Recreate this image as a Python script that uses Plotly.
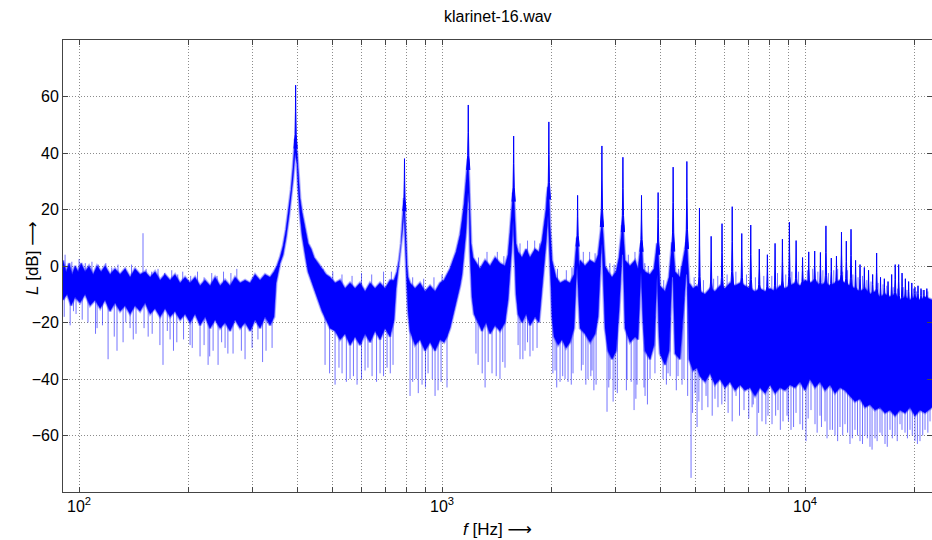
import numpy as np
import plotly.graph_objects as go

# ---- spectrum of klarinet-16.wav -------------------------------------------
# upper edge of the noise band (Hz, dB), including the broad skirts of the partials
band_top_hz = [
    90.3, 92.1, 93.9, 95.7, 97.5, 99.4, 101.3, 103.9, 106.5, 109.3, 112.1, 115.0,
    117.9, 121.7, 125.6, 129.7, 133.9, 138.2, 142.6, 147.2, 152.0, 156.9, 161.9,
    167.2, 172.5, 178.1, 183.8, 189.8, 195.9, 202.2, 208.7, 215.4, 222.4, 229.6,
    237.0, 244.6, 252.5, 260.6, 269.0, 277.7, 286.6, 295.9, 305.4, 315.2, 325.4,
    335.9, 344.5, 351.1, 357.8, 364.7, 371.7, 378.9, 383.7, 388.6, 391.1, 393.6,
    398.6, 401.2, 403.7, 406.2, 411.4, 416.7, 422.1, 427.5, 435.7, 444.0, 455.4,
    467.1, 479.1, 491.4, 507.3, 523.6, 540.5, 557.9, 575.9, 594.4, 613.6, 633.4,
    653.8, 674.8, 696.6, 719.0, 737.5, 751.6, 761.3, 771.1, 776.0, 780.9, 785.9,
    790.8, 795.9, 800.9, 806.0, 816.3, 842.6, 869.8, 897.8, 926.7, 956.6, 987.4,
    1013, 1032, 1052, 1072, 1093, 1107, 1121, 1135, 1150, 1164, 1172, 1179, 1187,
    1194, 1202, 1217, 1241, 1272, 1314, 1356, 1400, 1444, 1491, 1520, 1539, 1559,
    1569, 1579, 1589, 1599, 1620, 1661, 1704, 1747, 1804, 1850, 1886, 1910, 1934,
    1946, 1959, 1971, 1984, 2009, 2061, 2114, 2182, 2252, 2310, 2340, 2355, 2370,
    2385, 2400, 2477, 2557, 2640, 2691, 2724, 2741, 2759, 2776, 2794, 2812, 2866,
    2940, 3016, 3074, 3113, 3133, 3152, 3172, 3193, 3295, 3402, 3467, 3511, 3533,
    3556, 3578, 3625, 3741, 3837, 3888, 3913, 3938, 3961, 3986, 4115, 4221, 4274,
    4301, 4328, 4356, 4385, 4525, 4612, 4672, 4702, 4731, 4762, 4792, 4915, 5042,
    5137, 5304, 5474, 5649, 5832, 6021, 6214, 6415, 6621, 6835, 7055, 7283, 7516,
    7760, 8009, 8267, 8533, 8809, 9092, 9386, 9687, 10000, 10321, 10655, 10997,
    11353, 11718, 12095, 12485, 12887, 13302, 13730, 14173, 14630, 15101, 15590,
    16090, 16610, 17144, 17700, 18267, 18860, 19463, 20090, 20737, 21410, 22380,
]
band_top_db = [
    2, -2, 1, -3, 0, -2, 1, -2, 0, -3, 0, -2,
    0, -3, -1, -3, -1, -4, -1, -3, -2, -4, -2,
    -5, -3, -5, -3, -6, -4, -6, -4, -7, -5, -7,
    -4, -7, -5, -7, -4, -6, -5, -6, -3, -5, -3,
    -4, -2, 0, 3, 7, 13, 21, 27, 35, 40, 45,
    40, 34, 28, 24, 19, 15, 11, 8, 6, 3, 1,
    -1, -3, -4, -6, -5, -8, -6, -8, -6, -9, -6,
    -8, -6, -8, -5, -5, -2, 2, 8, 13, 20, 24,
    18, 8, 0, -4, -6, -8, -6, -9, -7, -9, -6,
    -5, -3, -1, 2, 5, 8, 11, 16, 22, 30, 35, 38, 30,
    14, 8, 3, 1, -1, 2, 0, 3, 1, 0, 4, 12, 22,
    26, 24, 12, 8, 5, 3, 6, 3, 6, 5, 9, 14, 20,
    25, 28, 25, 14, 2, -4, -6, -5, -6, -3, 6, 10, 8,
    0, 2, 0, 2, 1, 4, 10, 14, 16, 12, 4, 0, -2,
    -4, -2, 3, 10, 14, 14, 6, 2, 0, 2, -1, 5, 8,
    6, -1, -2, -3, -1, 4, 8, 6, -3, -7, -9, -4, 4,
    8, 8, 2, -2, -4, 2, 6, 8, 8, 0, -6, -8, -7,
    -9, -10, -8, -9, -7, -8, -6, -7, -6, -7, -8, -9, -8,
    -9, -8, -9, -7, -8, -7, -6, -7, -5, -6, -5, -7,
    -6, -7, -6, -5, -6, -7, -8, -9, -8, -10, -9,
    -11, -10, -11, -10, -12, -11, -12, -11, -12, -11, -12,
]

# lower edge of the dense noise band (Hz, dB)
band_bot_hz = [
    90.3, 92.7, 95.1, 97.5, 100.6, 103.9, 107.2, 110.7, 114.3, 117.9, 121.7, 125.6,
    129.7, 133.9, 138.2, 142.6, 147.2, 152.0, 156.9, 161.9, 167.2, 172.5, 178.1,
    183.8, 189.8, 195.9, 202.2, 208.7, 215.4, 222.4, 229.6, 237.0, 244.6, 252.5,
    260.6, 269.0, 277.7, 286.6, 295.9, 305.4, 315.2, 325.4, 335.9, 344.5, 348.9,
    353.4, 357.8, 364.7, 371.7, 378.9, 383.7, 388.6, 393.6, 398.6, 401.2, 403.7,
    406.2, 411.4, 416.7, 422.1, 427.5, 435.7, 444.0, 455.4, 467.1, 479.1, 491.4,
    507.3, 523.6, 540.5, 557.9, 575.9, 594.4, 613.6, 633.4, 653.8, 674.8, 696.6,
    719.0, 737.5, 746.9, 756.4, 766.2, 776.0, 785.9, 790.8, 795.9, 800.9, 806.0,
    816.3, 842.6, 869.8, 897.8, 926.7, 956.6, 987.4, 1013, 1032, 1052, 1072, 1093,
    1107, 1121, 1135, 1150, 1164, 1179, 1187, 1194, 1202, 1209, 1225, 1257, 1288,
    1322, 1356, 1400, 1444, 1491, 1520, 1539, 1559, 1569, 1579, 1589, 1599, 1620,
    1661, 1704, 1747, 1804, 1850, 1886, 1910, 1934, 1959, 1971, 1984, 1997, 2009,
    2035, 2088, 2141, 2196, 2252, 2310, 2340, 2355, 2370, 2385, 2400, 2477, 2557,
    2640, 2691, 2724, 2741, 2759, 2776, 2794, 2812, 2866, 2940, 3016, 3074, 3113,
    3133, 3152, 3172, 3193, 3295, 3402, 3467, 3511, 3533, 3556, 3578, 3625, 3741,
    3837, 3888, 3913, 3938, 3961, 3986, 4115, 4221, 4274, 4301, 4328, 4356, 4385,
    4525, 4612, 4672, 4702, 4731, 4762, 4792, 4915, 5042, 5137, 5304, 5474, 5649,
    5832, 6021, 6214, 6415, 6621, 6835, 7055, 7283, 7516, 7760, 8009, 8267, 8533,
    8809, 9092, 9386, 9687, 10000, 10321, 10655, 10997, 11353, 11718, 12095, 12485,
    12887, 13302, 13730, 14173, 14630, 15101, 15590, 16090, 16610, 17144, 17700,
    18267, 18860, 19463, 20090, 20737, 21410, 22380,
]
band_bot_db = [
    -12, -10, -14, -11, -13, -10, -14, -12, -15, -12, -16, -13,
    -16, -14, -17, -14, -16, -13, -17, -15, -18, -15, -18,
    -16, -19, -17, -20, -17, -21, -18, -22, -19, -22, -20,
    -23, -19, -22, -20, -23, -19, -22, -18, -21, -18, -6,
    -2, 1, 4, 10, 18, 24, 31, 40, 36, 28, 22,
    18, 11, 6, 2, -2, -5, -8, -12, -16, -19, -22,
    -23, -26, -24, -28, -25, -28, -24, -27, -23, -26, -22,
    -25, -19, -8, -1, 5, 11, 19, 12, 2, -8, -16,
    -23, -28, -26, -30, -27, -30, -26, -27, -25, -22, -18, -14,
    -10, -7, -3, 4, 12, 26, 22, 5, -4, -11, -17, -20, -23,
    -20, -24, -21, -23, -20, -12, -2, 8, 16, 12, 0, -10, -17,
    -20, -17, -21, -18, -20, -8, 0, 8, 18, 14, 2, -8, -18,
    -25, -28, -26, -29, -27, -22, -6, 0, -4, -15, -22, -24, -27,
    -24, -18, -4, 4, 8, 2, -12, -22, -30, -33, -30, -16, -4,
    4, 4, -8, -22, -27, -25, -26, -10, -2, -6, -20, -30, -33,
    -28, -12, -3, -8, -25, -31, -35, -30, -14, -4, -4, -18, -31,
    -33, -20, -8, -3, -3, -15, -33, -37, -36, -39, -41, -38, -42,
    -40, -43, -41, -44, -42, -44, -43, -46, -43, -45, -42, -45, -43,
    -44, -42, -43, -41, -44, -40, -43, -41, -44, -42, -45, -43,
    -44, -46, -48, -47, -50, -49, -51, -50, -52, -51, -53,
    -51, -52, -50, -53, -51, -52, -50,
]

# harmonic partials of the tone: frequency (Hz) and peak level (dB)
partial_hz = [
    395, 788, 1181, 1575, 1969, 2363, 2757, 3150, 3544, 3938, 4332, 4726, 5119,
    5513, 5907, 6301, 6695, 7088, 7482, 7876, 8270, 8664, 9057, 9451, 9845,
    10239, 10633, 11026, 11420, 11814, 12208, 12602, 12995, 13389, 13783, 14177,
    14571, 14964, 15358, 15752, 16146, 16540, 16933, 17327, 17721, 18115, 18509,
    18902, 19296, 19690, 20084, 20478, 20871, 21265, 21659,
]
partial_db = [
    64, 38, 57, 46, 51, 25, 42.5, 38.5, 25, 26, 35, 37, 20.5,
    10.5, 15, 21, 11.5, 14.5, 6, 4, 8, 9.5, 15.5, 9, 3,
    5, 5.3, 4.8, 14.2, 2.8, 3.5, 12, 8.8, 13, 2, 0.5,
    -0.5, -1.5, -3, 4.6, -4, -4.5, -5.5, -3, 0.5, 0.5, -2.5,
    -4.5, -5.5, -6, -7.5, -7, -8, -8.5, -8,
]

# isolated deep minima below the band (Hz, dB)
dips = [
    (91, -18), (94.5, -21), (96.5, -16), (98.1, -17), (102, -19), (105.8, -20),
    (111, -24), (112.1, -22), (116, -21), (120.2, -33), (125, -25), (127.2, -30),
    (132.2, -27), (134.5, -20), (138.2, -22), (141, -26), (143.5, -24), (151, -22),
    (155.0, -25), (159, -24), (167, -28), (170.3, -35), (175, -23), (178.1, -26),
    (182, -30), (185.9, -27), (194, -26), (202.2, -28), (205, -29), (215.4, -32),
    (221, -28), (226.7, -35), (229, -32), (234.0, -30), (241.5, -35), (247, -27),
    (252.5, -29), (257, -31), (265.6, -31), (280, -30), (286.6, -33), (299.7, -29),
    (311, -26), (320.3, -34), (327.4, -30), (340.2, -29),
    (476.1, -35), (490, -38), (507.3, -42), (520, -36), (530.3, -38), (545, -41),
    (557.9, -40), (570, -39), (583.2, -42), (600, -40), (613.6, -37), (625, -36),
    (641.5, -39), (660, -41), (674.8, -38), (690, -39), (705.5, -36), (720, -38),
    (732.8, -35), (816.3, -46), (830, -41), (848, -40), (860, -45), (880.9, -42),
    (900, -43), (915, -38), (940, -40), (956.6, -46), (975, -44), (993.7, -41),
    (1032, -43), (1240, -31), (1257, -35), (1290, -38), (1314, -43), (1340, -34),
    (1373, -38), (1410, -39), (1444, -40), (1470, -34), (1491, -36), (1620, -28),
    (1640, -33), (1670, -33), (1693, -30), (1720, -27), (1747, -32), (1780, -30),
    (1827, -29), (2020, -38), (2048, -37), (2070, -43), (2114, -41), (2150, -39),
    (2182, -40), (2224, -41), (2270, -42), (2295, -38), (2420, -37), (2446, -35),
    (2490, -42), (2524, -40), (2570, -39), (2590, -37), (2620, -44), (2657, -42),
    (2848, -51.6), (2880, -43), (2903, -40), (2960, -48), (2997, -44), (3040, -45),
    (3220, -44), (3234, -40), (3320, -41), (3381, -51), (3420, -47), (3445, -42),
    (3600, -43), (3625, -46), (3680, -49), (3741, -40), (3860, -38),
    (4064, -40), (4150, -42), (4194, -38), (4250, -39), (4420, -44), (4468, -39),
    (4583, -42), (4640, -40), (4750, -46), (4853, -75), (4900, -52), (4978, -45),
    (5042, -57), (5100, -48), (5202, -51), (5338, -46), (5400, -50), (5550, -53),
    (5649, -47), (5757, -50), (5900, -49), (6021, -48), (6139, -52), (6300, -55),
    (6456, -46), (6600, -53), (6791, -51), (7000, -54), (7147, -50), (7200, -49),
    (7376, -60), (7450, -52), (7612, -55), (7800, -56), (7908, -53), (8112, -56),
    (8300, -53), (8424, -51), (8550, -58), (8697, -55), (8921, -53), (9000, -55),
    (9150, -58), (9300, -57), (9446, -52), (9687, -56), (9850, -58), (10064, -62),
    (10200, -54), (10387, -51), (10655, -56), (10800, -59), (10997, -53),
    (11100, -57), (11353, -55), (11500, -61), (11718, -58), (11900, -58),
    (12095, -60), (12300, -62), (12485, -57), (12700, -60), (12887, -56),
    (13100, -59), (13302, -63), (13500, -61), (13730, -58), (13950, -60),
    (14173, -62), (14400, -63), (14630, -60), (14850, -61), (15101, -64),
    (15300, -65), (15590, -61), (15800, -62), (16090, -59), (16300, -60),
    (16610, -63), (16850, -64), (17144, -58), (17400, -61), (17700, -60),
    (17950, -62), (18267, -56), (18500, -58), (18860, -59), (19150, -61),
    (19463, -58), (19750, -60), (20090, -62), (20400, -63), (20737, -62),
    (21100, -60), (21410, -58), (21800, -59), (22100, -55),
]

# single spikes sticking out above the top of the band (Hz, dB)
crests = [
    (91.5, 4), (95.5, 1.5), (100, 2.5), (104, 1), (108.5, 1.5), (113, 0.5),
    (118.5, 1), (123, -0.5), (128, 0.5), (134, -1), (139.5, 0.5), (150, 11.6),
    (153, -1), (158.5, -2), (165, -1), (172, -2.5), (180, -1.5), (187, -3),
    (193, -2), (203, -3.5), (212, -2), (221, -4), (232, -2.5), (240, -3.5),
    (250, -2), (262, -2.5), (272, -1), (470, -1), (500, -2), (530, -3),
    (565, -3.5), (600, -2.5), (640, -3), (690, -2), (725, -2), (830, -4),
    (890, -4.5), (950, -4), (1000, -3), (1260, 3), (1330, 5), (1420, 5),
    (1480, 3.5), (1640, 8), (1720, 9), (1800, 9), (1860, 8), (2080, -1),
    (2200, -1.5), (2280, -0.5), (2450, 5), (2550, 5), (2640, 4.5), (2900, 1),
    (2980, 0.5), (3260, 4), (3400, 5), (3620, 1), (3700, 0), (4080, -5),
    (4480, -1), (4560, 0), (4950, -4), (5250, -5), (5600, -4.5), (5750, -3.5),
    (6100, -3), (6450, -2), (6900, -3), (7300, -4), (7700, -3.5), (8100, -3.5),
    (8400, -2.5), (8850, -3), (9200, -2), (9600, -2), (10150, -1.5),
    (10500, -1), (10850, -2), (11200, -1.5), (11600, -2.5), (12000, -1.5),
    (12300, -1), (12700, -2), (13100, -1.5), (13550, -3), (14000, -4),
    (14400, -3.5), (14800, -5), (15200, -5.5), (15900, -6), (16400, -6.5),
    (16800, -7), (17500, -7.5), (18000, -8), (18700, -7.5), (19100, -8.5),
    (19900, -8), (20300, -9), (21000, -8.5), (21800, -9),
]

x_ticks = [100, 200, 300, 400, 500, 600, 700, 800, 900,
           1000, 2000, 3000, 4000, 5000, 6000, 7000, 8000, 9000,
           10000, 20000]
x_labels = {100: "10<sup>2</sup>", 1000: "10<sup>3</sup>", 10000: "10<sup>4</sup>"}
y_ticks = [-60, -40, -20, 0, 20, 40, 60]

assert len(band_top_hz) == len(band_top_db)
assert len(band_bot_hz) == len(band_bot_db)
assert len(partial_hz) == len(partial_db)

BLUE = "rgb(0,0,255)"
PX_PER_DECADE = 363.0


def shift(f, px):
    """frequency moved by a number of pixels along the log axis"""
    return f * 10 ** (px / PX_PER_DECADE)


lt_hz = np.log10(band_top_hz)
lb_hz = np.log10(band_bot_hz)
band_x = band_top_hz + band_bot_hz[::-1]
band_y = band_top_db + band_bot_db[::-1]

fig = go.Figure()

# soft fringe around the band
fig.add_trace(go.Scatter(
    x=band_x, y=band_y, mode="lines",
    line=dict(color="rgba(0,0,255,0.28)", width=3),
    hoverinfo="skip", showlegend=False,
))

# dense noise band
fig.add_trace(go.Scatter(
    x=band_x, y=band_y,
    mode="lines", fill="toself", fillcolor=BLUE,
    line=dict(color="rgba(0,0,255,0.5)", width=1.2),
    hoverinfo="skip", showlegend=False,
))

# deep minima as thin lines hanging from the band
dx, dy = [], []
for f, v in dips:
    start = float(np.interp(np.log10(f), lb_hz, band_bot_db)) + 3
    dx += [f, f, None]
    dy += [start, v, None]
fig.add_trace(go.Scatter(
    x=dx, y=dy, mode="lines",
    line=dict(color="rgba(0,0,255,0.55)", width=1),
    hoverinfo="skip", showlegend=False,
))

# single spikes above the band
cx, cy = [], []
for f, v in crests:
    start = float(np.interp(np.log10(f), lt_hz, band_top_db)) - 2
    cx += [f, f, None]
    cy += [start, v, None]
fig.add_trace(go.Scatter(
    x=cx, y=cy, mode="lines",
    line=dict(color="rgba(0,0,255,0.55)", width=1),
    hoverinfo="skip", showlegend=False,
))

# narrow tips of the harmonic partials
offsets = [-1.6, -0.6, -0.2, 0.0, 0.2, 0.6, 1.6]
shares = [0.0, 0.22, 0.58, 1.0, 0.58, 0.22, 0.0]
tx, ty = [], []
for f, v in zip(partial_hz, partial_db):
    base = float(np.interp(np.log10(f), lt_hz, band_top_db)) - 2
    h = v - base
    if h <= 0:
        continue
    for o, s in zip(offsets, shares):
        tx.append(shift(f, o))
        ty.append(base + s * h)
    tx.append(None)
    ty.append(None)
fig.add_trace(go.Scatter(
    x=tx, y=ty, mode="lines", fill="toself", fillcolor=BLUE,
    line=dict(color=BLUE, width=1),
    hoverinfo="skip", showlegend=False,
))

FONT = "Liberation Sans, Arial, Helvetica, sans-serif"
ARROW = '<span style="font-family:DejaVu Sans">\u27f6</span>'
grid = dict(showgrid=True, gridcolor="#8c8c8c", griddash="1px,2px", gridwidth=1)

fig.update_layout(
    width=932, height=540,
    margin=dict(l=63, r=0, t=40, b=48),
    paper_bgcolor="white", plot_bgcolor="white",
    font=dict(family=FONT, size=16, color="black"),
    xaxis=dict(
        type="log",
        range=[np.log10(90.3), np.log10(22380)],
        tickmode="array", tickvals=x_ticks,
        ticktext=[x_labels.get(t, "") for t in x_ticks],
        ticks="inside", ticklen=5, tickcolor="#444",
        showline=True, linecolor="#444", linewidth=1, mirror="ticks",
        zeroline=False, **grid,
    ),
    yaxis=dict(
        range=[-80, 80],
        tickmode="array", tickvals=y_ticks,
        ticks="inside", ticklen=5, tickcolor="#444",
        showline=True, linecolor="#444", linewidth=1, mirror="ticks",
        zeroline=False, **grid,
    ),
    annotations=[
        dict(text="klarinet-16.wav", xref="paper", yref="paper",
             x=0.5, y=(492 - 17) / 452, xanchor="center", yanchor="middle",
             showarrow=False, font=dict(size=16)),
        dict(text="<i>f</i> [Hz] " + ARROW, xref="paper", yref="paper",
             x=0.5, y=(492 - 529) / 452, xanchor="center", yanchor="middle",
             showarrow=False, font=dict(size=17)),
        dict(text="<i>L</i> [dB] " + ARROW, xref="paper", yref="paper",
             x=(32 - 63) / 869, y=(492 - 258) / 452, xanchor="center",
             yanchor="middle", textangle=-90, showarrow=False,
             font=dict(size=17)),
    ],
)

fig.write_html("out.html")
